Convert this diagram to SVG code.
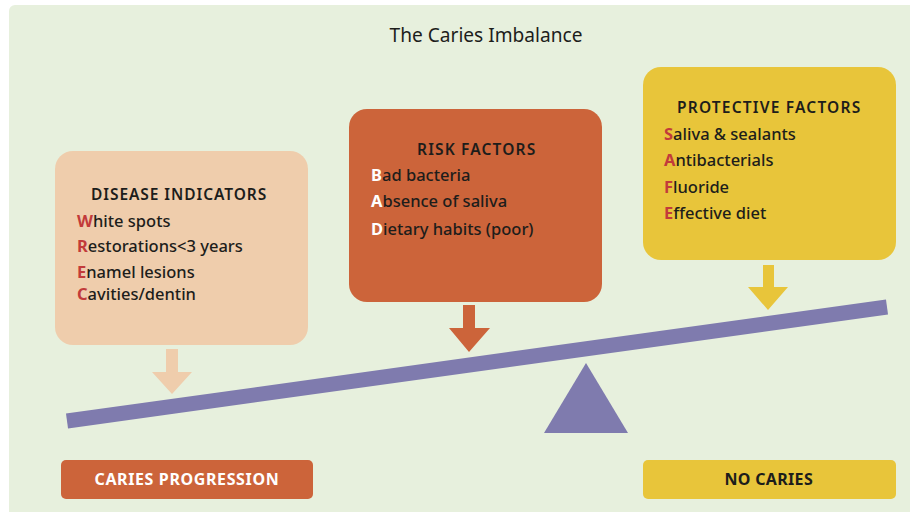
<svg xmlns="http://www.w3.org/2000/svg" width="910" height="512" viewBox="0 0 910 512">
<style>
text{font-family:"Noto Sans","Liberation Sans",sans-serif;fill:#1d1d1b}
.title{font-size:20px}
.head{font-size:15.5px;font-weight:600;letter-spacing:0.8px}
.item{font-size:16.5px;font-weight:500}
.red{fill:#c23b3a;font-weight:bold}
.wht{fill:#ffffff;font-weight:bold}
.lbl{font-size:16px;font-weight:bold;letter-spacing:0.8px}
</style>
<rect x="0" y="0" width="910" height="512" fill="#ffffff"/>
<rect x="9" y="5" width="910" height="520" rx="6" fill="#e7f0dd"/>
<text class="title" x="486" y="42" text-anchor="middle" textLength="193" lengthAdjust="spacingAndGlyphs">The Caries Imbalance</text>
<g id="connectors">
<polygon points="166,349 178,349 178,372 192,372 172,394 152,372 166,372" fill="#efcdac"/>
<polygon points="463,305 475,305 475,328 490,328 469,352 449,328 463,328" fill="#cc643a"/>
<polygon points="763,265 774,265 774,287 788,287 768,310 748,287 763,287" fill="#e8c53a"/>
</g>
<g id="beam">
<line x1="67" y1="421" x2="887" y2="307" stroke="#7f7bae" stroke-width="15"/>
<polygon points="586,363 628,433 544,433" fill="#7f7bae"/>
</g>
<g id="disease">
<rect x="55" y="151" width="253" height="194" rx="18" fill="#efcdac"/>
<text class="head" x="91" y="200" textLength="176">DISEASE INDICATORS</text>
<text class="item" x="77" y="227"><tspan class="red">W</tspan>hite spots</text>
<text class="item" x="77" y="252"><tspan class="red">R</tspan>estorations&lt;3 years</text>
<text class="item" x="77" y="278"><tspan class="red">E</tspan>namel lesions</text>
<text class="item" x="77" y="300"><tspan class="red">C</tspan>avities/dentin</text>
</g>
<g id="risk">
<rect x="349" y="109" width="253" height="193" rx="18" fill="#cc643a"/>
<text class="head" x="417" y="155" textLength="119">RISK FACTORS</text>
<text class="item" x="371" y="181"><tspan class="wht">B</tspan>ad bacteria</text>
<text class="item" x="371" y="207"><tspan class="wht">A</tspan>bsence of saliva</text>
<text class="item" x="371" y="235"><tspan class="wht">D</tspan>ietary habits (poor)</text>
</g>
<g id="protective">
<rect x="643" y="67" width="253" height="193" rx="18" fill="#e8c53a"/>
<text class="head" x="677" y="113" textLength="184">PROTECTIVE FACTORS</text>
<text class="item" x="664" y="140"><tspan class="red">S</tspan>aliva &amp; sealants</text>
<text class="item" x="664" y="166"><tspan class="red">A</tspan>ntibacterials</text>
<text class="item" x="664" y="193"><tspan class="red">F</tspan>luoride</text>
<text class="item" x="664" y="219"><tspan class="red">E</tspan>ffective diet</text>
</g>
<g id="progression">
<rect x="61" y="460" width="252" height="39" rx="5" fill="#cc643a"/>
<text class="lbl" x="187" y="485" text-anchor="middle" style="fill:#fff" textLength="185">CARIES PROGRESSION</text>
</g>
<g id="nocaries">
<rect x="643" y="460" width="253" height="39" rx="5" fill="#e8c53a"/>
<text class="lbl" x="769" y="485" text-anchor="middle" textLength="89">NO CARIES</text>
</g>
</svg>
